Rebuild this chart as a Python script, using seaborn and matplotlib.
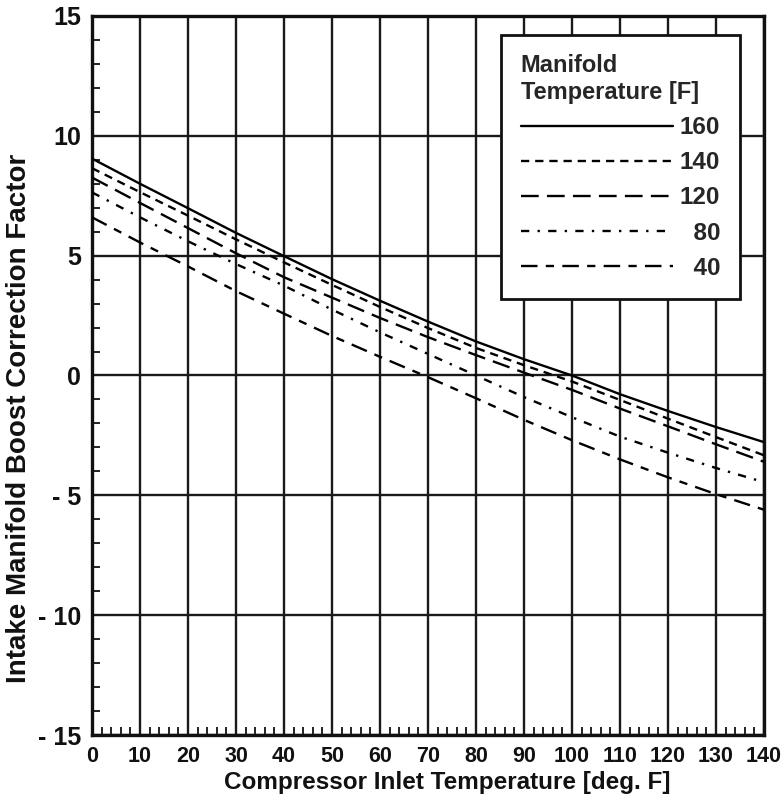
import pandas as pd
import numpy as np
import matplotlib
matplotlib.use("Agg")
import matplotlib.pyplot as plt
import seaborn as sns
from matplotlib.ticker import MultipleLocator

# data
inlet_temp = [0, 10, 20, 30, 40, 50, 60, 70, 80, 90, 100, 110, 120, 130, 140]
boost_160 = [9.05, 8.0, 6.98, 5.95, 4.98, 4.02, 3.12, 2.25, 1.42, 0.68, 0.0, -0.78, -1.48, -2.15, -2.78]
boost_140 = [8.65, 7.65, 6.67, 5.68, 4.72, 3.78, 2.86, 1.98, 1.15, 0.43, -0.25, -1.02, -1.8, -2.57, -3.33]
boost_120 = [8.26, 7.2, 6.15, 5.1, 4.1, 3.25, 2.4, 1.6, 0.85, 0.12, -0.6, -1.38, -2.12, -2.87, -3.6]
boost_80 = [7.64, 6.6, 5.6, 4.65, 3.75, 2.75, 1.8, 0.9, 0.0, -0.9, -1.74, -2.55, -3.22, -3.86, -4.45]
boost_40 = [6.6, 5.55, 4.55, 3.52, 2.58, 1.65, 0.78, -0.07, -0.95, -1.85, -2.7, -3.5, -4.25, -4.95, -5.6]
manifold_labels = ["160", "140", "120", "80", "40"]
y_tick_labels = ["- 15", "- 10", "- 5", "0", "5", "10", "15"]

series = {"160": boost_160, "140": boost_140, "120": boost_120, "80": boost_80, "40": boost_40}
df = pd.concat(
    [pd.DataFrame({"inlet": inlet_temp, "boost": v, "manifold": k}) for k, v in series.items()],
    ignore_index=True,
)

sns.set_style("white")
plt.rcParams["font.family"] = ["Liberation Sans", "DejaVu Sans"]
plt.rcParams["font.weight"] = "bold"

fig = plt.figure(figsize=(7.81, 8.07), dpi=100)
ax = fig.add_axes([0.1178, 0.0892, 0.8604, 0.8910])

dash_styles = {
    "160": "",
    "140": (3.5, 2.5),
    "120": (7.5, 3.5),
    "80": (3.5, 3.5, 1, 3.5),
    "40": (7, 3.5, 3.5, 3.5),
}
sns.lineplot(
    data=df, x="inlet", y="boost", hue="manifold", style="manifold",
    hue_order=manifold_labels, style_order=manifold_labels,
    palette=["black"] * 5, dashes=dash_styles, linewidth=1.7,
    legend=False, ax=ax, zorder=3,
)

ax.set_xlim(0, 140)
ax.set_ylim(-15, 15)
ax.set_xticks(np.arange(0, 141, 10))
ax.set_yticks(np.arange(-15, 16, 5))
ax.set_yticklabels(y_tick_labels)
ax.xaxis.set_minor_locator(MultipleLocator(2))
ax.yaxis.set_minor_locator(MultipleLocator(1))
ax.tick_params(axis="both", which="major", length=0, pad=8, colors="#111111")
ax.tick_params(axis="x", which="major", labelsize=15.5)
ax.tick_params(axis="y", which="major", labelsize=18)
ax.tick_params(axis="x", which="minor", bottom=True, direction="in", length=6, width=1.3, color="#111111")
ax.tick_params(axis="y", which="minor", left=True, direction="in", length=6, width=1.3, color="#111111")

ax.grid(True, which="major", color="#1a1a1a", linewidth=1.7)
ax.set_axisbelow(True)
for sp in ax.spines.values():
    sp.set_color("#111111")
    sp.set_linewidth(2.4)

ax.set_xlabel("Compressor Inlet Temperature [deg. F]", fontsize=17.5, fontweight="bold", color="#111111")
ax.set_ylabel("Intake Manifold Boost Correction Factor", fontsize=20, fontweight="bold", color="#111111")
ax.xaxis.set_label_coords(0.528, -0.05)
ax.yaxis.set_label_coords(-0.09, 0.441)

handles = ax.get_lines()[:5]
labels = ["160", "140", "120", "  80", "  40"]
leg = ax.legend(
    handles, labels, title="Manifold\nTemperature [F]", loc="upper right",
    bbox_to_anchor=(0.964, 0.9736), borderaxespad=0, fontsize=17.5, title_fontsize=17,
    handlelength=6.25, handletextpad=0.3, labelspacing=0.5, alignment="left",
    fancybox=False, framealpha=1, edgecolor="#111111", borderpad=0.8,
)
leg.get_title().set_fontweight("bold")
leg.get_frame().set_linewidth(2.0)
leg.set_zorder(5)

fig.savefig("out.png", dpi=100)
